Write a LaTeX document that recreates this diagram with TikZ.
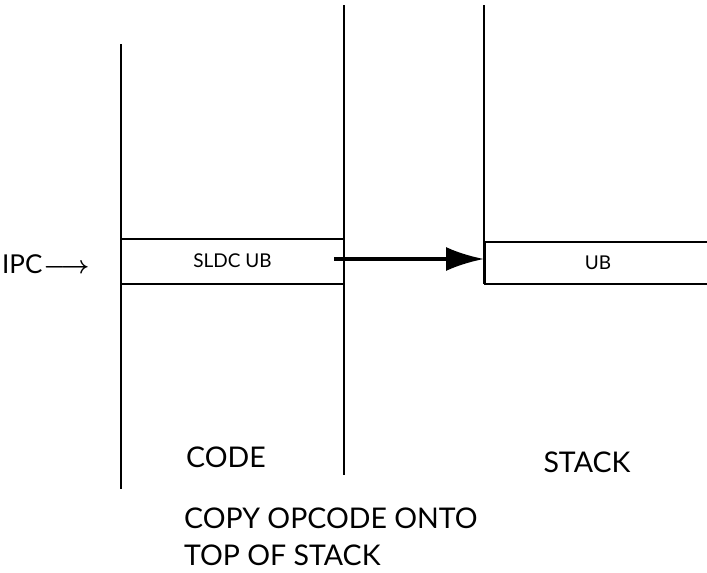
\documentclass[tikz,border=0pt]{standalone}
\usepackage{fontspec}
\setmainfont{Lato}
\usetikzlibrary{arrows.meta}

\tikzset{
  wall/.style={line width=2pt},
  cell/.style={draw, line width=2pt, inner sep=0pt, font=\fontsize{19}{19}\selectfont},
  label/.style={inner sep=0pt, font=\fontsize{28.5}{37}\selectfont}
}

\begin{document}
\begin{tikzpicture}[x=1pt, y=-1pt]
        \useasboundingbox (0, 0) rectangle (707, 573);

        % columns
        \coordinate (codeTL) at (121, 44);
        \coordinate (codeBL) at (121, 489);
        \coordinate (codeTR) at (344, 5);
        \coordinate (codeBR) at (344, 475);
        \coordinate (stackTL) at (484, 5);
        \coordinate (stackBL) at (484, 284);

        \draw[wall] (codeTL) -- (codeBL);
        \draw[wall] (codeTR) -- (codeBR);
        \draw[wall] (stackTL) -- (stackBL);

        % cells
        \node[cell, minimum width=223pt, minimum height=45pt] (sldc) at (232.5, 261) {SLDC UB};
        \node[cell, minimum width=226pt, minimum height=42pt, anchor=west] (ub) at (484, 263) {UB};

        \draw[-{Latex[length=38pt, width=24pt]}, line width=3.5pt]
          ([xshift=-11pt, yshift=2pt]sldc.east) -- ([yshift=4pt]ub.west);

        % texts
        \node[label, anchor=west, font=\fontsize{26}{30}\selectfont] (ipc) at (2, 264)
          {IPC\hspace{1pt}{\boldmath$\longrightarrow$}};
        \node[label] (code) at (226, 457) {CODE};
        \node[label] (stack) at (587, 462) {STACK};
        \node[label, anchor=base west, align=left] (note) at (184, 565)
          {COPY OPCODE ONTO\\TOP OF STACK};
      \end{tikzpicture}
\end{document}
